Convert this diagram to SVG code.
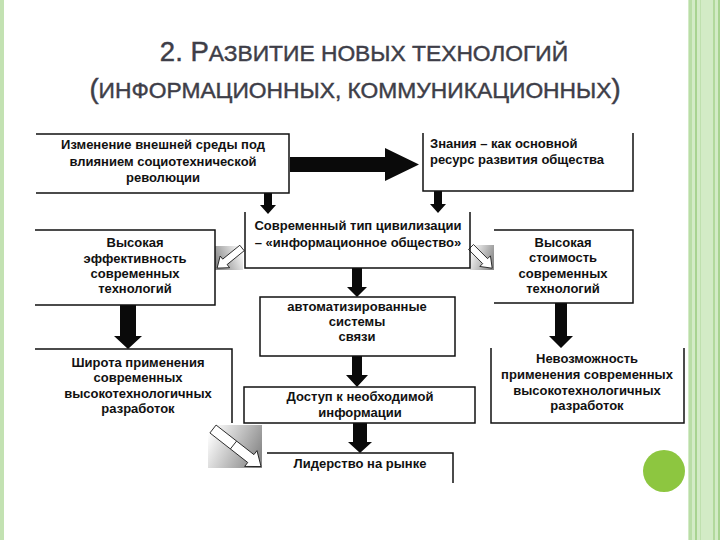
<svg xmlns="http://www.w3.org/2000/svg" width="720" height="540" viewBox="0 0 720 540">
<defs>
<style>
.t{font-family:"Liberation Sans",Arial,sans-serif;font-weight:bold;font-size:13px;fill:#111;}
.c{text-anchor:middle;}
.ttl{font-family:"Liberation Sans",Arial,sans-serif;fill:#3e3e48;stroke:#3e3e48;stroke-width:0.45;text-anchor:middle;}
.b{fill:none;stroke:#111;stroke-width:1.5;}
.fa{fill:#0a0a0a;stroke:none;}
.ha{fill:#fff;stroke:#111;stroke-width:0.8;}
</style>
<linearGradient id="gL" x1="0" y1="0.6" x2="1" y2="0.2">
<stop offset="0" stop-color="#8a8a8a"/><stop offset="1" stop-color="#ffffff"/>
</linearGradient>
<linearGradient id="gR" x1="0" y1="0.2" x2="1" y2="0.6">
<stop offset="0" stop-color="#ffffff"/><stop offset="1" stop-color="#8a8a8a"/>
</linearGradient>
</defs>
<rect width="720" height="540" fill="#fff"/>
<g id="decor">
<rect x="0" y="0" width="4" height="540" fill="#c3e2b2"/>
<rect x="688" y="0" width="32" height="540" fill="#d3ebc6"/>
<rect x="689" y="0" width="3" height="540" fill="#b9dda6"/>
<rect x="695" y="0" width="2" height="540" fill="#a8d390"/>
<rect x="700" y="0" width="1" height="540" fill="#bfe0ae"/>
<rect x="713" y="0" width="2" height="540" fill="#b2d99c"/>
<rect x="718" y="0" width="2" height="540" fill="#a8d390"/>
<circle cx="664" cy="471" r="21" fill="#8dc640"/>
</g>
<g id="title">
<text class="ttl" x="364" y="61"><tspan font-size="27.5">2. Р</tspan><tspan font-size="22.8">АЗВИТИЕ НОВЫХ ТЕХНОЛОГИЙ</tspan></text>
<text class="ttl" x="355" y="98"><tspan font-size="27.5">(</tspan><tspan font-size="22.8">ИНФОРМАЦИОННЫХ, КОММУНИКАЦИОННЫХ</tspan><tspan font-size="27.5">)</tspan></text>
</g>
<g id="connectors">
<polygon class="fa" points="290,157 385,157 385,148 419,164.5 385,181 385,172 290,172"/>
<polygon class="fa" points="264,193 272,193 272,205 276,205 268,214 260,205 264,205"/>
<polygon class="fa" points="434,191 442,191 442,204 446,204 438,213 430,204 434,204"/>
<polygon class="fa" points="352,268 362,268 362,287 367,287 357,297 347,287 352,287"/>
<polygon class="fa" points="120,305 136,305 136,336 142,336 128,349 114,336 120,336"/>
<polygon class="fa" points="555,303 567,303 567,336 573,336 561,348 549,336 555,336"/>
<polygon class="fa" points="352,356 362,356 362,375 368,375 357,387 346,375 352,375"/>
<polygon class="fa" points="353,423 367,423 367,442 372,442 360,453 348,442 353,442"/>
<rect x="215" y="246" width="28" height="24" fill="url(#gL)"/>
<g transform="translate(242,248) rotate(141)">
<polygon class="ha" points="0,-3.5 22,-3.5 22,-7.5 32,0 22,7.5 22,3.5 0,3.5"/>
</g>
<rect x="470" y="245" width="24" height="25" fill="url(#gR)"/>
<g transform="translate(471,247) rotate(45)">
<polygon class="ha" points="0,-3.5 20,-3.5 20,-7.5 30,0 20,7.5 20,3.5 0,3.5"/>
</g>
<rect x="208" y="425" width="54" height="43" fill="url(#gR)"/>
<g transform="translate(213,429) rotate(38)">
<polygon class="ha" points="0,-5 48,-5 48,-10 61,0 48,10 48,5 0,5"/>
<line x1="26" y1="-5" x2="26" y2="5" stroke="#111" stroke-width="0.8"/>
</g>
</g>
<g id="n1">
<path class="b" d="M36,134 H289 V193 H36"/>
<text class="t c" x="163" y="149">Изменение внешней среды под</text>
<text class="t c" x="163" y="166">влиянием социотехнической</text>
<text class="t c" x="163" y="182">революции</text>
</g>
<g id="n2">
<path class="b" d="M423,133 V191 H633 V133"/>
<text class="t" x="430" y="148">Знания – как основной</text>
<text class="t" x="430" y="164">ресурс развития общества</text>
</g>
<g id="n3">
<path class="b" d="M245,212 V268 H470 V212"/>
<text class="t c" x="358" y="230">Современный тип цивилизации</text>
<text class="t c" x="358" y="247">– «информационное общество»</text>
</g>
<g id="n4">
<path class="b" d="M35,230 H215 V305 H35"/>
<text class="t c" x="135" y="247">Высокая</text>
<text class="t c" x="135" y="263">эффективность</text>
<text class="t c" x="135" y="278">современных</text>
<text class="t c" x="135" y="293">технологий</text>
</g>
<g id="n5">
<path class="b" d="M494,230 H633 V303 H494"/>
<text class="t c" x="563" y="247">Высокая</text>
<text class="t c" x="563" y="262">стоимость</text>
<text class="t c" x="563" y="278">современных</text>
<text class="t c" x="563" y="293">технологий</text>
</g>
<g id="n6">
<rect class="b" x="260" y="297" width="195" height="59"/>
<text class="t c" x="357" y="311">автоматизированные</text>
<text class="t c" x="357" y="326">системы</text>
<text class="t c" x="357" y="341">связи</text>
</g>
<g id="n7">
<path class="b" d="M35,349 H232 V423"/>
<text class="t c" x="138" y="367">Широта применения</text>
<text class="t c" x="138" y="382">современных</text>
<text class="t c" x="138" y="398">высокотехнологичных</text>
<text class="t c" x="138" y="413">разработок</text>
</g>
<g id="n8">
<rect class="b" x="244" y="387" width="231" height="36"/>
<text class="t c" x="360" y="401">Доступ к необходимой</text>
<text class="t c" x="360" y="417">информации</text>
</g>
<g id="n9">
<path class="b" d="M491,348 V423 H684 V348"/>
<text class="t c" x="587" y="363">Невозможность</text>
<text class="t c" x="587" y="379">применения современных</text>
<text class="t c" x="587" y="395">высокотехнологичных</text>
<text class="t c" x="587" y="410">разработок</text>
</g>
<g id="n10">
<path class="b" d="M267,453 H453 V483"/>
<text class="t c" x="360" y="468">Лидерство на рынке</text>
</g>
</svg>
